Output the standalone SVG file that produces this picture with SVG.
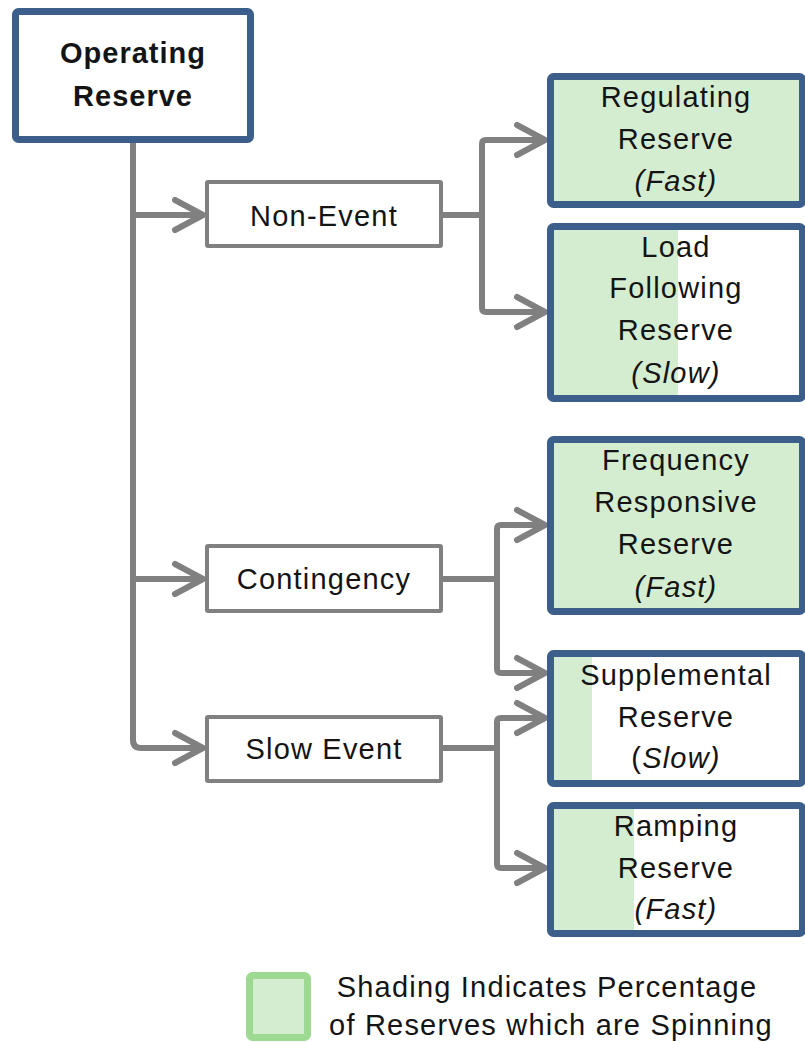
<svg xmlns="http://www.w3.org/2000/svg" width="805" height="1042" viewBox="0 0 805 1042">
<style>
text{font-family:"Liberation Sans",Arial,sans-serif;fill:#141414;text-anchor:middle;font-size:29px;letter-spacing:1.2px}
.b{font-weight:bold;letter-spacing:1px}
.i{font-style:italic}
.n{font-style:normal}
.main{fill:#fff;stroke:#3b5f8a;stroke-width:7}
.mid{fill:#fff;stroke:#808080;stroke-width:4}
.shade{fill:#d4edd0}
.res{fill:none;stroke:#3b5f8a;stroke-width:7}
.con path{fill:none;stroke:#808080;stroke-width:6;stroke-linejoin:round}
</style>
<defs>
<marker id="arr" viewBox="-34 -20 40 40" refX="0" refY="0" markerWidth="40" markerHeight="40" markerUnits="userSpaceOnUse" orient="auto">
<path d="M-28,-15 L0,0 L-28,15" fill="none" stroke="#808080" stroke-width="6" stroke-linecap="round" stroke-linejoin="round"/>
</marker>
</defs>
<rect width="805" height="1042" fill="#fff"/>

<g id="connectors" class="con">
<path d="M133,143 V740 Q133,748 141,748 H203" marker-end="url(#arr)"/>
<path d="M133,215 H203" marker-end="url(#arr)"/>
<path d="M133,579 H203" marker-end="url(#arr)"/>
<path d="M443,215 H482"/>
<path d="M482,215 V144 Q482,140 486,140 H545" marker-end="url(#arr)"/>
<path d="M482,215 V308 Q482,312 486,312 H545" marker-end="url(#arr)"/>
<path d="M443,579 H497"/>
<path d="M497,579 V529 Q497,525 501,525 H545" marker-end="url(#arr)"/>
<path d="M497,579 V669 Q497,673 501,673 H545" marker-end="url(#arr)"/>
<path d="M443,748 H497"/>
<path d="M497,748 V722 Q497,718 501,718 H545" marker-end="url(#arr)"/>
<path d="M497,748 V864 Q497,868 501,868 H545" marker-end="url(#arr)"/>
</g>

<g id="operating-reserve">
<rect class="main" x="15.5" y="11.5" width="235" height="128" rx="3"/>
<text class="b" x="133" y="63">Operating</text>
<text class="b" x="133" y="106">Reserve</text>
</g>

<g id="non-event">
<rect class="mid" x="207" y="182" width="234" height="64" rx="1"/>
<text x="324" y="226">Non-Event</text>
</g>

<g id="contingency">
<rect class="mid" x="207" y="546" width="234" height="65" rx="1"/>
<text x="324" y="589">Contingency</text>
</g>

<g id="slow-event">
<rect class="mid" x="207" y="717" width="234" height="64" rx="1"/>
<text x="324" y="759">Slow Event</text>
</g>

<g id="regulating-reserve">
<rect x="550.5" y="76.5" width="252" height="128" fill="#fff"/>
<rect class="shade" x="554" y="80" width="248" height="121"/>
<rect class="res" x="550.5" y="76.5" width="252" height="128" rx="3"/>
<text x="676" y="107">Regulating</text>
<text x="676" y="149">Reserve</text>
<text class="i" x="676" y="191">(Fast)</text>
</g>

<g id="load-following-reserve">
<rect x="550.5" y="226.5" width="252" height="172" fill="#fff"/>
<rect class="shade" x="554" y="230" width="124" height="165"/>
<rect class="res" x="550.5" y="226.5" width="252" height="172" rx="3"/>
<text x="676" y="257">Load</text>
<text x="676" y="298">Following</text>
<text x="676" y="340">Reserve</text>
<text class="i" x="676" y="383">(Slow)</text>
</g>

<g id="frequency-responsive-reserve">
<rect x="550.5" y="439.5" width="252" height="172" fill="#fff"/>
<rect class="shade" x="554" y="443" width="248" height="165"/>
<rect class="res" x="550.5" y="439.5" width="252" height="172" rx="3"/>
<text x="676" y="470">Frequency</text>
<text x="676" y="512">Responsive</text>
<text x="676" y="554">Reserve</text>
<text class="i" x="676" y="597">(Fast)</text>
</g>

<g id="supplemental-reserve">
<rect x="550.5" y="653.5" width="252" height="130" fill="#fff"/>
<rect class="shade" x="554" y="657" width="38" height="123"/>
<rect class="res" x="550.5" y="653.5" width="252" height="130" rx="3"/>
<text x="676" y="685">Supplemental</text>
<text x="676" y="727">Reserve</text>
<text x="676" y="768">(<tspan class="i">Slow)</tspan></text>
</g>

<g id="ramping-reserve">
<rect x="550.5" y="805.5" width="252" height="128" fill="#fff"/>
<rect class="shade" x="554" y="809" width="80" height="121"/>
<rect class="res" x="550.5" y="805.5" width="252" height="128" rx="3"/>
<text x="676" y="836">Ramping</text>
<text x="676" y="878">Reserve</text>
<text class="i" x="676" y="919">(Fast)</text>
</g>

<g id="legend">
<rect x="249.5" y="975.5" width="58" height="62" rx="3" fill="#d4edd0" stroke="#9ed992" stroke-width="7"/>
<text x="547" y="997">Shading Indicates Percentage</text>
<text x="551" y="1035">of  Reserves which are Spinning</text>
</g>
</svg>
